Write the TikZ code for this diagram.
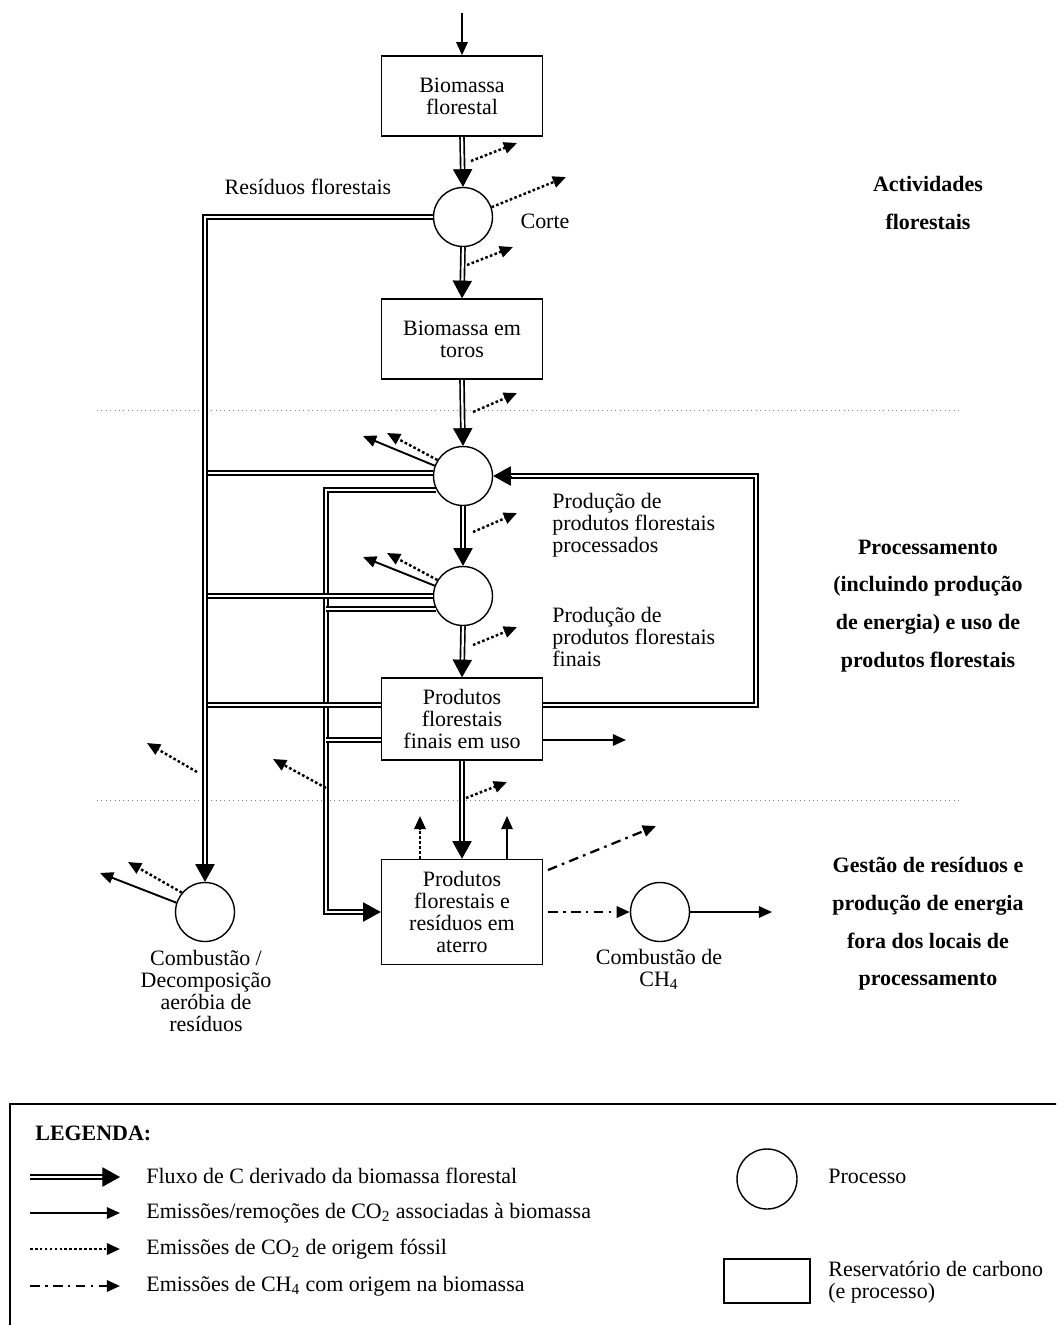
\documentclass[tikz,border=0pt]{standalone}
\usepackage{fontspec}
\setmainfont{Liberation Serif}
\usetikzlibrary{arrows.meta,calc}
\begin{document}
\begin{tikzpicture}[x=0.02cm,y=-0.02cm,
  every node/.style={font=\fontsize{12.5}{12.5}\selectfont, inner sep=0pt},
  box/.style={draw, line width=0.9pt, minimum width=3.22cm, minimum height=1.6cm, align=center},
  proc/.style={draw, circle, line width=0.8pt, minimum size=1.18cm},
  flow/.style={double, double distance=1.3pt, line width=0.95pt},
  ftip/.style={line width=0.4pt, -{Triangle[length=10pt,width=11pt]}},
  co2/.style={line width=1.1pt, -{Triangle[length=7.5pt,width=6.5pt]}},
  fossil/.style={line width=1.4pt, dash pattern=on 1.5pt off 1.3pt, -{Triangle[length=7.5pt,width=6.5pt]}},
  ch4/.style={line width=1.3pt, dash pattern=on 5.5pt off 3pt on 1.5pt off 3pt, -{Triangle[length=7.5pt,width=6.5pt]}},
  sep/.style={gray, line width=0.5pt, dotted},
  region/.style={font=\bfseries\fontsize{12.5}{21.5}\selectfont, align=center},
  lbl/.style={align=center},
  lbll/.style={align=left, anchor=west},
]
\useasboundingbox (0,0) rectangle (1056,1325);

% stage separators
\draw[sep] (97,410) -- (960,410);
\draw[sep] (97,800) -- (960,800);

% carbon pools and processes
\node[box] (b1) at (462,96) {Biomassa\\florestal};
\node[proc] (c1) at (463,217) {};
\node[box] (b2) at (462,339) {Biomassa em\\toros};
\node[proc] (c2) at (463,476) {};
\node[proc] (c3) at (463,596) {};
\node[box, minimum height=1.64cm] (b3) at (462,719) {Produtos\\florestais\\finais em uso};
\node[box, minimum height=2.1cm] (b4) at (462,912) {Produtos\\florestais e\\resíduos em\\aterro};
\node[proc] (c4) at (205,912) {};
\node[proc] (c5) at (660,912) {};

% labels
\node[lbl] (lres) at (308,187) {Resíduos florestais};
\node[lbl] (lcorte) at (545,221) {Corte};
\node[lbll] (lpp) at (552,525) {Produção de\\produtos florestais\\processados};
\node[lbll] (lpf) at (552,637) {Produção de\\produtos florestais\\finais};
\node[lbl] (lcd) at (206,991) {Combustão /\\Decomposição\\aeróbia de\\resíduos};
\node[lbl] (lch) at (659,969) {Combustão de\\CH\textsubscript{4}};

\node[region] (r1) at (928,203) {Actividades\\florestais};
\node[region] (r2) at (928,606) {Processamento\\(incluindo produção\\de energia) e uso de\\produtos florestais};
\node[region] (r3) at (928,924) {Gestão de resíduos e\\produção de energia\\fora dos locais de\\processamento};

% input to forest biomass
\coordinate (top) at (462,13);
\draw[co2] (top) -- (b1.north);

% main chain of carbon flows
\foreach \a/\b in {b1.south/c1.north, c1.south/b2.north, b2.south/c2.north,
                   c2.south/c3.north, c3.south/b3.north, b3.south/b4.north}{
  \draw[flow, shorten >=9pt] (\a) -- (\b);
  \draw[ftip] ($(\b)!10pt!(\a)$) -- (\b);
}

% inner collector to landfill
\coordinate (ic) at (326,912);
\draw[flow, shorten >=9pt] (c2.208) -| (ic) -- (b4.west);
\draw[ftip] ($(b4.west)!10pt!(ic)$) -- (b4.west);

% residue collector corner
\coordinate (rc) at (c1.west -| c4.north);

% branches into the collectors
\coordinate (b3u) at ($(b3.west)+(0,-14)$);
\coordinate (b3l) at ($(b3.west)+(0,21)$);
\draw[flow] (c2.174) -- (c2.174 -| rc);
\draw[flow] (c3.180) -- (c3.180 -| rc);
\draw[flow] (c3.206) -- (c3.206 -| ic);
\draw[flow] (b3u) -- (b3u -| rc);
\draw[flow] (b3l) -- (b3l -| ic);

% forest residues to combustion / decomposition
\draw[flow, shorten >=9pt] (c1.west) -- (rc) -- (c4.north);
\draw[ftip] ($(c4.north)!10pt!(rc)$) -- (c4.north);

% recycling loop
\coordinate (lr) at (756,476);
\coordinate (b3r) at ($(b3.east)+(0,-14)$);
\draw[flow, shorten >=9pt] (b3r) -| (lr) -- (c2.east);
\draw[ftip] ($(c2.east)!10pt!(lr)$) -- (c2.east);

% fossil CO2 emissions
\coordinate (f1s) at (471,161); \coordinate (f1e) at (517,143);
\coordinate (f2e) at (566,177);
\coordinate (f3s) at (467,265); \coordinate (f3e) at (513,247);
\coordinate (f4s) at (473,412); \coordinate (f4e) at (517,393);
\coordinate (f5e) at (387,433);
\coordinate (f6s) at (473,532); \coordinate (f6e) at (517,513);
\coordinate (f7e) at (387,553);
\coordinate (f8s) at (473,645); \coordinate (f8e) at (517,627);
\coordinate (f9s) at (197,772); \coordinate (f9e) at (147,743);
\coordinate (f10s) at (326,788); \coordinate (f10e) at (273,759);
\coordinate (f11s) at (466,798); \coordinate (f11e) at (507,782);
\coordinate (f12s) at ($(b4.north)+(-42,0)$); \coordinate (f12e) at (420,816);
\coordinate (f13e) at (128,862);
\draw[fossil] (f1s) -- (f1e);
\draw[fossil] (c1.19) -- (f2e);
\draw[fossil] (f3s) -- (f3e);
\draw[fossil] (f4s) -- (f4e);
\draw[fossil] (c2.148) -- (f5e);
\draw[fossil] (f6s) -- (f6e);
\draw[fossil] (c3.148) -- (f7e);
\draw[fossil] (f8s) -- (f8e);
\draw[fossil] (f9s) -- (f9e);
\draw[fossil] (f10s) -- (f10e);
\draw[fossil] (f11s) -- (f11e);
\draw[fossil] (f12s) -- (f12e);
\draw[fossil] (c4.140) -- (f13e);

% biomass CO2 emissions / removals
\coordinate (s1e) at (363,436);
\coordinate (s2e) at (363,557);
\coordinate (s3s) at ($(b3.east)+(0,21)$); \coordinate (s3e) at (626,740);
\coordinate (s4s) at ($(b4.north)+(45,0)$); \coordinate (s4e) at (507,816);
\coordinate (s5e) at (772,912);
\coordinate (s6e) at (100,873);
\draw[co2] (c2.160) -- (s1e);
\draw[co2] (c3.160) -- (s2e);
\draw[co2] (s3s) -- (s3e);
\draw[co2] (s4s) -- (s4e);
\draw[co2] (c5.east) -- (s5e);
\draw[co2] (c4.162) -- (s6e);

% CH4 from landfill
\coordinate (m1s) at (548,870); \coordinate (m1e) at (656,826);
\coordinate (m2s) at (548,912);
\draw[ch4] (m1s) -- (m1e);
\draw[ch4] (m2s) -- (c5.west);

% legend
\begin{scope}
\clip (0,0) rectangle (1056,1325);
\draw[line width=0.9pt] (1070,1104) -- (10,1104) -- (10,1340);
\end{scope}
\node[anchor=west, font=\bfseries\fontsize{12.5}{12.5}\selectfont] (leg) at (35,1133) {LEGENDA:};
\coordinate (k1s) at (30,1177); \coordinate (k1e) at (120,1177);
\coordinate (k2s) at (30,1213); \coordinate (k2e) at (120,1213);
\coordinate (k3s) at (30,1249); \coordinate (k3e) at (120,1249);
\coordinate (k4s) at (30,1286); \coordinate (k4e) at (120,1286);
\draw[flow, double distance=1.6pt, line width=1.1pt, shorten >=9pt] (k1s) -- (k1e);
\draw[ftip] ($(k1e)!10pt!(k1s)$) -- (k1e);
\draw[co2] (k2s) -- (k2e);
\draw[fossil] (k3s) -- (k3e);
\draw[ch4] (k4s) -- (k4e);
\node[anchor=west] (t1) at (146,1176) {Fluxo de C derivado da biomassa florestal};
\node[anchor=west] (t2) at (146,1213) {Emissões/remoções de CO\textsubscript{2} associadas à biomassa};
\node[anchor=west] (t3) at (146,1249) {Emissões de CO\textsubscript{2} de origem fóssil};
\node[anchor=west] (t4) at (146,1286) {Emissões de CH\textsubscript{4} com origem na biomassa};
\node[proc, minimum size=1.2cm] (kc) at (767,1179) {};
\node[anchor=west] (tc) at (828,1176) {Processo};
\node[draw, line width=0.9pt, minimum width=1.72cm, minimum height=0.88cm] (kb) at (767,1281) {};
\node[lbll] (tb) at (828,1282) {Reservatório de carbono\\(e processo)};
\end{tikzpicture}
\end{document}
